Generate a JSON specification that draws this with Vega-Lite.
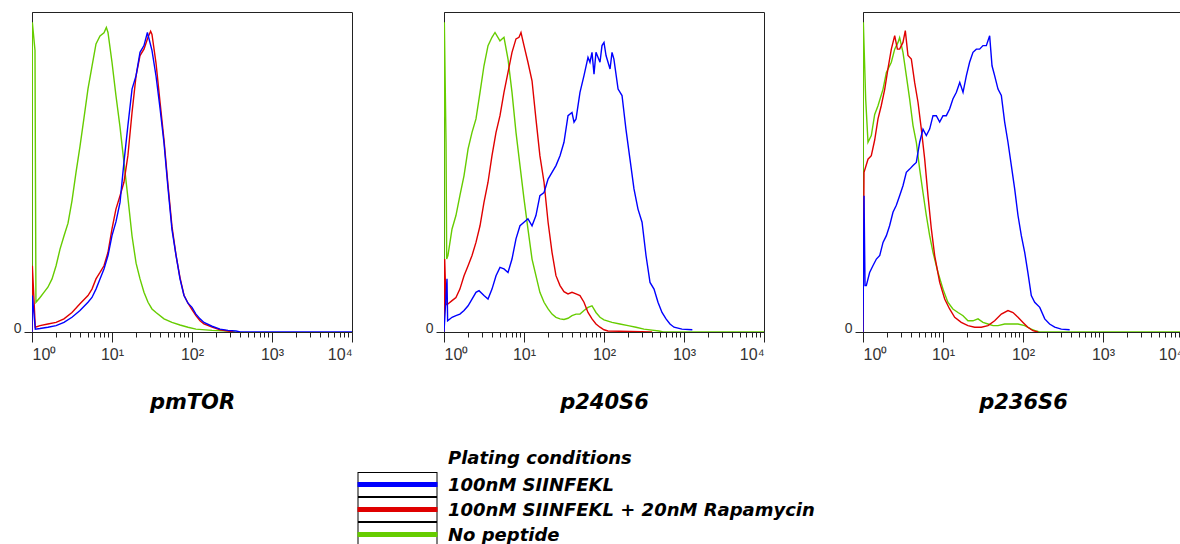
{
"$schema": "https://vega.github.io/schema/vega-lite/v6.json",
"background": "white",
"padding": {"left": 12, "top": 11, "right": 0, "bottom": 0},
"datasets": {
"p1": [
{"c":"C","x":1,"y":0},{"c":"C","x":1.01,"y":96.8},{"c":"C","x":1.09,"y":88},{"c":"C","x":1.12,"y":9.3},{"c":"C","x":1.26,"y":10.8},{"c":"C","x":1.41,"y":12.4},{"c":"C","x":1.58,"y":14},{"c":"C","x":1.78,"y":16.6},{"c":"C","x":2,"y":20.7},{"c":"C","x":2.24,"y":25.9},{"c":"C","x":2.51,"y":30},{"c":"C","x":2.82,"y":34},{"c":"C","x":3.16,"y":41},{"c":"C","x":3.55,"y":49.9},{"c":"C","x":3.98,"y":58},{"c":"C","x":4.47,"y":67},{"c":"C","x":5.01,"y":76},{"c":"C","x":5.62,"y":83},{"c":"C","x":6.31,"y":90},{"c":"C","x":7.08,"y":92.5},{"c":"C","x":7.94,"y":93.5},{"c":"C","x":8.5,"y":95.2},{"c":"C","x":8.91,"y":93.6},{"c":"C","x":10,"y":84.3},{"c":"C","x":11.2,"y":73.9},{"c":"C","x":12.6,"y":64},{"c":"C","x":14.1,"y":53},{"c":"C","x":15.8,"y":42},{"c":"C","x":17.8,"y":30},{"c":"C","x":20,"y":21.5},{"c":"C","x":22.4,"y":16.6},{"c":"C","x":25.1,"y":12.4},{"c":"C","x":28.2,"y":9.3},{"c":"C","x":31.6,"y":7.2},{"c":"C","x":35.5,"y":6.1},{"c":"C","x":44.7,"y":4.1},{"c":"C","x":56.2,"y":3},{"c":"C","x":70.8,"y":2.2},{"c":"C","x":89.1,"y":1.5},{"c":"C","x":112,"y":0.9},{"c":"C","x":178,"y":0.5},{"c":"C","x":282,"y":0.3},{"c":"C","x":350,"y":0},
{"c":"B","x":1,"y":0},{"c":"B","x":1.01,"y":20.7},{"c":"B","x":1.1,"y":1.5},{"c":"B","x":1.26,"y":2},{"c":"B","x":1.58,"y":2.5},{"c":"B","x":2,"y":3},{"c":"B","x":2.51,"y":4.1},{"c":"B","x":3.16,"y":6.1},{"c":"B","x":3.98,"y":8.8},{"c":"B","x":5.01,"y":11.4},{"c":"B","x":5.62,"y":13.4},{"c":"B","x":6.31,"y":16.6},{"c":"B","x":7.08,"y":18.6},{"c":"B","x":7.94,"y":20.7},{"c":"B","x":8.91,"y":24.9},{"c":"B","x":10,"y":32.2},{"c":"B","x":11.2,"y":38.4},{"c":"B","x":12.6,"y":42.6},{"c":"B","x":14.1,"y":46.8},{"c":"B","x":15.8,"y":55.1},{"c":"B","x":17.8,"y":68.6},{"c":"B","x":20,"y":80.1},{"c":"B","x":22.4,"y":86.4},{"c":"B","x":25.1,"y":88.4},{"c":"B","x":28.2,"y":92.1},{"c":"B","x":30.4,"y":94},{"c":"B","x":31.6,"y":93},{"c":"B","x":35.5,"y":84},{"c":"B","x":39.8,"y":72},{"c":"B","x":44.7,"y":60},{"c":"B","x":50.1,"y":46},{"c":"B","x":56.2,"y":33},{"c":"B","x":63.1,"y":24},{"c":"B","x":70.8,"y":17},{"c":"B","x":79.4,"y":11.5},{"c":"B","x":89.1,"y":9},{"c":"B","x":100,"y":7},{"c":"B","x":112,"y":5.1},{"c":"B","x":126,"y":3.5},{"c":"B","x":141,"y":2.5},{"c":"B","x":178,"y":1.5},{"c":"B","x":224,"y":0.7},{"c":"B","x":282,"y":0.3},{"c":"B","x":330,"y":0},
{"c":"A","x":1,"y":0},{"c":"A","x":1.01,"y":11.4},{"c":"A","x":1.1,"y":0.9},{"c":"A","x":1.26,"y":1.1},{"c":"A","x":1.58,"y":1.5},{"c":"A","x":2,"y":2},{"c":"A","x":2.51,"y":3},{"c":"A","x":3.16,"y":4.6},{"c":"A","x":3.98,"y":6.7},{"c":"A","x":5.01,"y":9.3},{"c":"A","x":5.62,"y":10.8},{"c":"A","x":6.31,"y":13.4},{"c":"A","x":7.08,"y":16.6},{"c":"A","x":7.94,"y":19.7},{"c":"A","x":8.91,"y":23.9},{"c":"A","x":10,"y":30.1},{"c":"A","x":11.2,"y":34.4},{"c":"A","x":12.6,"y":40.5},{"c":"A","x":14.1,"y":53},{"c":"A","x":15.8,"y":64.5},{"c":"A","x":17.8,"y":75.9},{"c":"A","x":20,"y":80.1},{"c":"A","x":22.4,"y":87.4},{"c":"A","x":25.1,"y":89.5},{"c":"A","x":27.7,"y":93.6},{"c":"A","x":31.6,"y":88},{"c":"A","x":35.5,"y":80},{"c":"A","x":39.8,"y":70},{"c":"A","x":44.7,"y":59},{"c":"A","x":50.1,"y":45},{"c":"A","x":56.2,"y":32},{"c":"A","x":63.1,"y":24},{"c":"A","x":70.8,"y":16.6},{"c":"A","x":79.4,"y":11.4},{"c":"A","x":89.1,"y":9},{"c":"A","x":100,"y":7.7},{"c":"A","x":112,"y":5.6},{"c":"A","x":126,"y":4.1},{"c":"A","x":141,"y":3},{"c":"A","x":178,"y":1.8},{"c":"A","x":224,"y":0.9},{"c":"A","x":282,"y":0.5},{"c":"A","x":355,"y":0.3},{"c":"A","x":400,"y":0},{"c":"A","x":10000,"y":0}
],
"p2": [
{"c":"C","x":1,"y":0},{"c":"C","x":1.01,"y":96.8},{"c":"C","x":1.06,"y":59.3},{"c":"C","x":1.08,"y":22.8},{"c":"C","x":1.12,"y":23.9},{"c":"C","x":1.26,"y":32.2},{"c":"C","x":1.41,"y":36.4},{"c":"C","x":1.58,"y":42.6},{"c":"C","x":1.78,"y":48.9},{"c":"C","x":2,"y":57.2},{"c":"C","x":2.24,"y":62.4},{"c":"C","x":2.51,"y":66.6},{"c":"C","x":2.82,"y":74.9},{"c":"C","x":3.16,"y":83.2},{"c":"C","x":3.55,"y":89.5},{"c":"C","x":3.98,"y":92.1},{"c":"C","x":4.34,"y":93.6},{"c":"C","x":5.01,"y":91},{"c":"C","x":5.62,"y":92.1},{"c":"C","x":6.31,"y":85.3},{"c":"C","x":7.08,"y":74.9},{"c":"C","x":7.94,"y":62.4},{"c":"C","x":8.91,"y":52},{"c":"C","x":10,"y":41.6},{"c":"C","x":11.2,"y":32.2},{"c":"C","x":12.6,"y":22.8},{"c":"C","x":14.1,"y":17.6},{"c":"C","x":15.8,"y":12.4},{"c":"C","x":17.8,"y":9.3},{"c":"C","x":20,"y":7.2},{"c":"C","x":22.4,"y":5.6},{"c":"C","x":25.1,"y":4.6},{"c":"C","x":28.2,"y":4.1},{"c":"C","x":31.6,"y":3.9},{"c":"C","x":35.5,"y":4.3},{"c":"C","x":39.8,"y":5.1},{"c":"C","x":44.7,"y":5.6},{"c":"C","x":50.1,"y":5.6},{"c":"C","x":56.2,"y":6.7},{"c":"C","x":63.1,"y":7.7},{"c":"C","x":70.8,"y":8.2},{"c":"C","x":79.4,"y":6.1},{"c":"C","x":89.1,"y":4.6},{"c":"C","x":100,"y":3.8},{"c":"C","x":126,"y":3},{"c":"C","x":158,"y":2.5},{"c":"C","x":200,"y":2},{"c":"C","x":251,"y":1.5},{"c":"C","x":316,"y":0.9},{"c":"C","x":398,"y":0.6},{"c":"C","x":487,"y":0.3},{"c":"C","x":550,"y":0},{"c":"C","x":10000,"y":0},
{"c":"B","x":1,"y":0},{"c":"B","x":1.02,"y":22.8},{"c":"B","x":1.06,"y":8.5},{"c":"B","x":1.12,"y":8.75},{"c":"B","x":1.26,"y":9.8},{"c":"B","x":1.41,"y":10.8},{"c":"B","x":1.58,"y":13.4},{"c":"B","x":1.78,"y":17.6},{"c":"B","x":2,"y":20.7},{"c":"B","x":2.24,"y":23.9},{"c":"B","x":2.51,"y":28},{"c":"B","x":2.82,"y":33.2},{"c":"B","x":3.16,"y":40.5},{"c":"B","x":3.55,"y":46.8},{"c":"B","x":3.98,"y":55.1},{"c":"B","x":4.47,"y":62.4},{"c":"B","x":5.01,"y":67.6},{"c":"B","x":5.62,"y":74.9},{"c":"B","x":6.31,"y":81.1},{"c":"B","x":7.08,"y":87.4},{"c":"B","x":7.94,"y":91.6},{"c":"B","x":8.66,"y":92.1},{"c":"B","x":9.17,"y":93.6},{"c":"B","x":10,"y":89.5},{"c":"B","x":11.2,"y":84.3},{"c":"B","x":12.6,"y":78.5},{"c":"B","x":14.1,"y":66.6},{"c":"B","x":15.8,"y":55.1},{"c":"B","x":17.8,"y":46.8},{"c":"B","x":20,"y":34.3},{"c":"B","x":22.4,"y":24.9},{"c":"B","x":25.1,"y":17.6},{"c":"B","x":28.2,"y":14.5},{"c":"B","x":31.6,"y":12.6},{"c":"B","x":35.5,"y":11.9},{"c":"B","x":39.8,"y":12.4},{"c":"B","x":44.7,"y":11.9},{"c":"B","x":50.1,"y":11.4},{"c":"B","x":56.2,"y":9.3},{"c":"B","x":63.1,"y":6.1},{"c":"B","x":70.8,"y":4.1},{"c":"B","x":79.4,"y":2.5},{"c":"B","x":89.1,"y":1.5},{"c":"B","x":100,"y":0.7},{"c":"B","x":112,"y":0.3},{"c":"B","x":400,"y":0},
{"c":"A","x":1,"y":0},{"c":"A","x":1.09,"y":16.6},{"c":"A","x":1.11,"y":3.5},{"c":"A","x":1.26,"y":4.6},{"c":"A","x":1.41,"y":5.1},{"c":"A","x":1.58,"y":5.6},{"c":"A","x":1.78,"y":6.7},{"c":"A","x":2,"y":8.2},{"c":"A","x":2.24,"y":10.3},{"c":"A","x":2.51,"y":12.4},{"c":"A","x":2.74,"y":12.9},{"c":"A","x":3.16,"y":11.4},{"c":"A","x":3.55,"y":10.3},{"c":"A","x":3.98,"y":13.4},{"c":"A","x":4.47,"y":17.6},{"c":"A","x":5.01,"y":20.2},{"c":"A","x":5.62,"y":19.7},{"c":"A","x":6.31,"y":18.6},{"c":"A","x":7.08,"y":22.8},{"c":"A","x":7.94,"y":29.1},{"c":"A","x":8.91,"y":33.2},{"c":"A","x":10,"y":34.3},{"c":"A","x":11.2,"y":35.4},{"c":"A","x":12.6,"y":33.2},{"c":"A","x":14.1,"y":36.4},{"c":"A","x":15.8,"y":42.6},{"c":"A","x":17.8,"y":43.6},{"c":"A","x":20,"y":47.8},{"c":"A","x":22.4,"y":49.9},{"c":"A","x":25.1,"y":52},{"c":"A","x":28.2,"y":55.1},{"c":"A","x":31.6,"y":59.3},{"c":"A","x":35.5,"y":67.6},{"c":"A","x":39.8,"y":68.6},{"c":"A","x":42.2,"y":65.6},{"c":"A","x":44.7,"y":66.6},{"c":"A","x":50.1,"y":74.9},{"c":"A","x":56.2,"y":80.1},{"c":"A","x":63.1,"y":85.8},{"c":"A","x":66.8,"y":84.3},{"c":"A","x":70.8,"y":87.4},{"c":"A","x":75,"y":80.6},{"c":"A","x":79.4,"y":87.4},{"c":"A","x":89.1,"y":84.3},{"c":"A","x":94.4,"y":89.5},{"c":"A","x":100,"y":90.5},{"c":"A","x":106,"y":86.4},{"c":"A","x":119,"y":82.2},{"c":"A","x":126,"y":87.4},{"c":"A","x":133,"y":85.3},{"c":"A","x":150,"y":75.9},{"c":"A","x":168,"y":73.9},{"c":"A","x":188,"y":63.4},{"c":"A","x":211,"y":54.1},{"c":"A","x":237,"y":44.7},{"c":"A","x":266,"y":38.4},{"c":"A","x":299,"y":34.3},{"c":"A","x":335,"y":23.9},{"c":"A","x":376,"y":15.5},{"c":"A","x":422,"y":13.4},{"c":"A","x":473,"y":9.3},{"c":"A","x":531,"y":6.1},{"c":"A","x":596,"y":4.1},{"c":"A","x":668,"y":2.5},{"c":"A","x":750,"y":1.5},{"c":"A","x":944,"y":0.9},{"c":"A","x":1271,"y":0.7}
],
"p3": [
{"c":"C","x":1,"y":0},{"c":"C","x":1.01,"y":96.8},{"c":"C","x":1.08,"y":72.8},{"c":"C","x":1.155,"y":59.3},{"c":"C","x":1.27,"y":61.4},{"c":"C","x":1.4,"y":68},{"c":"C","x":1.54,"y":70.7},{"c":"C","x":1.78,"y":75.9},{"c":"C","x":1.96,"y":81.1},{"c":"C","x":2.26,"y":84.3},{"c":"C","x":2.49,"y":88.4},{"c":"C","x":2.74,"y":90.5},{"c":"C","x":2.87,"y":92},{"c":"C","x":3.16,"y":87.4},{"c":"C","x":3.48,"y":80.1},{"c":"C","x":3.83,"y":72.8},{"c":"C","x":4.22,"y":64.5},{"c":"C","x":4.64,"y":59.3},{"c":"C","x":5.11,"y":50.9},{"c":"C","x":5.62,"y":43.6},{"c":"C","x":6.19,"y":36.4},{"c":"C","x":6.81,"y":30.1},{"c":"C","x":7.5,"y":24.9},{"c":"C","x":8.66,"y":18.6},{"c":"C","x":10,"y":13.4},{"c":"C","x":11.5,"y":9.3},{"c":"C","x":13.3,"y":7.2},{"c":"C","x":15.4,"y":6.1},{"c":"C","x":17.8,"y":5.1},{"c":"C","x":20.5,"y":3.5},{"c":"C","x":23.7,"y":3.5},{"c":"C","x":27.4,"y":4.1},{"c":"C","x":31.6,"y":3},{"c":"C","x":36.5,"y":2.5},{"c":"C","x":42.2,"y":2},{"c":"C","x":48.7,"y":2},{"c":"C","x":59,"y":2.5},{"c":"C","x":71.5,"y":2.5},{"c":"C","x":86.6,"y":2.5},{"c":"C","x":105,"y":2},{"c":"C","x":127,"y":0.9},{"c":"C","x":147,"y":0.3},{"c":"C","x":160,"y":0},{"c":"C","x":10000,"y":0},
{"c":"B","x":1,"y":0},{"c":"B","x":1.03,"y":49.9},{"c":"B","x":1.155,"y":54},{"c":"B","x":1.27,"y":55.1},{"c":"B","x":1.4,"y":60},{"c":"B","x":1.54,"y":66.6},{"c":"B","x":1.69,"y":70.7},{"c":"B","x":1.87,"y":75.9},{"c":"B","x":2.05,"y":82.2},{"c":"B","x":2.26,"y":88.4},{"c":"B","x":2.49,"y":92.6},{"c":"B","x":2.69,"y":88.4},{"c":"B","x":2.87,"y":88.4},{"c":"B","x":3.16,"y":90.5},{"c":"B","x":3.38,"y":94.2},{"c":"B","x":3.65,"y":86.4},{"c":"B","x":4.02,"y":85.3},{"c":"B","x":4.42,"y":78},{"c":"B","x":4.87,"y":71.8},{"c":"B","x":5.36,"y":63.4},{"c":"B","x":5.9,"y":54.1},{"c":"B","x":6.49,"y":42.6},{"c":"B","x":7.15,"y":32.2},{"c":"B","x":7.87,"y":23.9},{"c":"B","x":9.09,"y":15.5},{"c":"B","x":10.5,"y":10.3},{"c":"B","x":12.1,"y":7.2},{"c":"B","x":14,"y":4.6},{"c":"B","x":16.9,"y":3},{"c":"B","x":20.5,"y":2},{"c":"B","x":24.9,"y":1.5},{"c":"B","x":30.1,"y":1.5},{"c":"B","x":36.5,"y":2},{"c":"B","x":44.2,"y":3.5},{"c":"B","x":53.6,"y":5.6},{"c":"B","x":64.9,"y":6.7},{"c":"B","x":75,"y":6.1},{"c":"B","x":86.6,"y":4.6},{"c":"B","x":100,"y":3},{"c":"B","x":115,"y":1.5},{"c":"B","x":133,"y":0.4},{"c":"B","x":154,"y":0},
{"c":"A","x":1,"y":0},{"c":"A","x":1.03,"y":42.6},{"c":"A","x":1.06,"y":14.5},{"c":"A","x":1.1,"y":14.5},{"c":"A","x":1.21,"y":18.6},{"c":"A","x":1.33,"y":20.7},{"c":"A","x":1.47,"y":22.8},{"c":"A","x":1.62,"y":23.9},{"c":"A","x":1.78,"y":28},{"c":"A","x":1.96,"y":30.1},{"c":"A","x":2.15,"y":33.2},{"c":"A","x":2.37,"y":37.4},{"c":"A","x":2.61,"y":39.6},{"c":"A","x":2.87,"y":42.6},{"c":"A","x":3.16,"y":45.7},{"c":"A","x":3.48,"y":49.9},{"c":"A","x":3.83,"y":50.9},{"c":"A","x":4.22,"y":52},{"c":"A","x":4.64,"y":53},{"c":"A","x":5.11,"y":59.3},{"c":"A","x":5.62,"y":63.4},{"c":"A","x":6.19,"y":61.4},{"c":"A","x":6.81,"y":63.4},{"c":"A","x":7.5,"y":67.6},{"c":"A","x":8.25,"y":67.6},{"c":"A","x":9.09,"y":65.6},{"c":"A","x":10,"y":67.6},{"c":"A","x":11,"y":67.6},{"c":"A","x":12.1,"y":69.7},{"c":"A","x":13.3,"y":72.8},{"c":"A","x":14.7,"y":74.9},{"c":"A","x":16.2,"y":78},{"c":"A","x":17.8,"y":74.9},{"c":"A","x":19.6,"y":80.1},{"c":"A","x":21.5,"y":84.3},{"c":"A","x":23.7,"y":87.4},{"c":"A","x":26.1,"y":88.4},{"c":"A","x":28.7,"y":88.4},{"c":"A","x":31.6,"y":89.5},{"c":"A","x":34.8,"y":89.5},{"c":"A","x":38.3,"y":92.6},{"c":"A","x":41,"y":83.2},{"c":"A","x":44.2,"y":80.1},{"c":"A","x":48.7,"y":75.9},{"c":"A","x":53.6,"y":73.9},{"c":"A","x":59,"y":65.6},{"c":"A","x":64.9,"y":59.3},{"c":"A","x":71.5,"y":52},{"c":"A","x":78.7,"y":44.7},{"c":"A","x":86.6,"y":36.4},{"c":"A","x":95.3,"y":30.1},{"c":"A","x":105,"y":24.9},{"c":"A","x":115,"y":18.6},{"c":"A","x":127,"y":11.4},{"c":"A","x":140,"y":9.3},{"c":"A","x":162,"y":7.7},{"c":"A","x":187,"y":4.1},{"c":"A","x":215,"y":2.5},{"c":"A","x":249,"y":1.5},{"c":"A","x":301,"y":0.9},{"c":"A","x":383,"y":0.7}
]
},
"config": {
"view": {"stroke": "#222", "strokeWidth": 1},
"axis": {"grid": false, "domainColor": "#222", "tickColor": "#222", "labelColor": "#333", "labelFont": "Liberation Sans"},
"axisX": {"labelFontSize": 16, "labelPadding": 4, "labelFlush": true, "labelOverlap": false, "titleFont": "DejaVu Sans", "titleFontSize": 21, "titleFontStyle": "italic", "titleFontWeight": "bold", "titleColor": "black", "titlePadding": 29},
"axisY": {"labelFontSize": 14, "tickSize": 8, "labelPadding": 3, "labelOffset": -4}
},
"spacing": 71,
"hconcat": [
{
"data": {"name": "p1"}, "width": 320, "height": 320,
"mark": {"type": "line", "clip": true, "strokeWidth": 1.4},
"encoding": {
"x": {"field": "x", "type": "quantitative", "scale": {"type": "log", "domain": [1, 10000]}, "axis": {"title": "pmTOR", "values": [1,2,3,4,5,6,7,8,9,10,20,30,40,50,60,70,80,90,100,200,300,400,500,600,700,800,900,1000,2000,3000,4000,5000,6000,7000,8000,9000,10000], "labelExpr": "indexof([1,10,100,1000,10000], datum.value) >= 0 ? '10' + ['⁰','¹','²','³','⁴'][round(log(datum.value)/LN10)] : ''", "tickSize": {"condition": {"test": "indexof([1,10,100,1000,10000], datum.value) >= 0", "value": 10}, "value": 5}}},
"y": {"field": "y", "type": "quantitative", "scale": {"domain": [0, 100]}, "axis": {"title": null, "values": [0]}},
"color": {"field": "c", "type": "nominal", "scale": {"domain": ["A","B","C"], "range": ["#0000ff","#e00000","#66cc00"]},
"legend": {"title": "Plating conditions", "orient": "none", "legendX": 323, "legendY": 438, "direction": "vertical", "padding": 0,
"labelExpr": "datum.value == 'A' ? '100nM SIINFEKL' : datum.value == 'B' ? '100nM SIINFEKL + 20nM Rapamycin' : 'No peptide'",
"symbolType": "M-1,0L7,0L-1,0L-1,-1.25L7,-1.25L7,1.25L-1,1.25L-1,-1.25L-0.9,-1.15L-0.9,1.15L6.9,1.15L6.9,-1.15L-0.9,-1.15L-1,-1.25L-1,0Z",
"symbolSize": 400, "symbolStrokeWidth": 1, "clipHeight": 25, "rowPadding": -1, "labelOffset": 68,
"labelFont": "DejaVu Sans", "labelFontSize": 18, "labelFontStyle": "italic", "labelFontWeight": "bold", "labelColor": "black", "labelLimit": 0,
"titleFont": "DejaVu Sans", "titleFontSize": 18, "titleFontStyle": "italic", "titleFontWeight": "bold", "titleColor": "black", "titlePadding": 4, "titleLimit": 0,
"encode": {
"entries": {"update": {"width": {"value": 470}}},
"symbols": {"update": {"fill": {"value": "black"}, "fillOpacity": {"value": 1}, "stroke": {"scale": "color", "field": "value"}, "strokeWidth": {"value": 5}, "strokeDash": {"value": [160, 5000]}, "strokeCap": {"value": "butt"}, "opacity": {"value": 1}}},
"labels": {"update": {"dy": {"value": 1}}},
"title": {"update": {"dx": {"value": 93}}}}}}
}
},
{
"spacing": 78,
"hconcat": [
{
"data": {"name": "p2"}, "width": 320, "height": 320,
"mark": {"type": "line", "clip": true, "strokeWidth": 1.4},
"encoding": {
"x": {"field": "x", "type": "quantitative", "scale": {"type": "log", "domain": [1, 10000]}, "axis": {"title": "p240S6", "values": [1,2,3,4,5,6,7,8,9,10,20,30,40,50,60,70,80,90,100,200,300,400,500,600,700,800,900,1000,2000,3000,4000,5000,6000,7000,8000,9000,10000], "labelExpr": "indexof([1,10,100,1000,10000], datum.value) >= 0 ? '10' + ['⁰','¹','²','³','⁴'][round(log(datum.value)/LN10)] : ''", "tickSize": {"condition": {"test": "indexof([1,10,100,1000,10000], datum.value) >= 0", "value": 10}, "value": 5}}},
"y": {"field": "y", "type": "quantitative", "scale": {"domain": [0, 100]}, "axis": {"title": null, "values": [0]}},
"color": {"field": "c", "type": "nominal", "scale": {"domain": ["A","B","C"], "range": ["#0000ff","#e00000","#66cc00"]}}
}
},
{
"data": {"name": "p3"}, "width": 320, "height": 320,
"mark": {"type": "line", "clip": true, "strokeWidth": 1.4},
"encoding": {
"x": {"field": "x", "type": "quantitative", "scale": {"type": "log", "domain": [1, 10000]}, "axis": {"title": "p236S6", "values": [1,2,3,4,5,6,7,8,9,10,20,30,40,50,60,70,80,90,100,200,300,400,500,600,700,800,900,1000,2000,3000,4000,5000,6000,7000,8000,9000,10000], "labelExpr": "indexof([1,10,100,1000,10000], datum.value) >= 0 ? '10' + ['⁰','¹','²','³','⁴'][round(log(datum.value)/LN10)] : ''", "tickSize": {"condition": {"test": "indexof([1,10,100,1000,10000], datum.value) >= 0", "value": 10}, "value": 5}}},
"y": {"field": "y", "type": "quantitative", "scale": {"domain": [0, 100]}, "axis": {"title": null, "values": [0]}},
"color": {"field": "c", "type": "nominal", "scale": {"domain": ["A","B","C"], "range": ["#0000ff","#e00000","#66cc00"]}}
}
}
]
}
],
"resolve": {"scale": {"color": "shared"}}
}
